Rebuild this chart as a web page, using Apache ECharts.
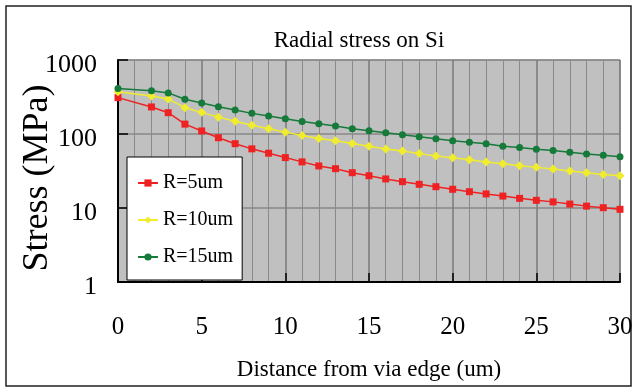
<!DOCTYPE html>
<html>
<head>
<meta charset="utf-8">
<script src="https://cdn.jsdelivr.net/npm/echarts@6/dist/echarts.min.js"></script>
<style>
  html, body { margin: 0; padding: 0; background: #fff; }
  #chart { width: 632px; height: 388px; }
</style>
</head>
<body>
<div id="chart"></div>
<script>
// distance from via edge (um)
const distance = [0, 2, 3, 4, 5, 6, 7, 8, 9, 10, 11, 12, 13, 14, 15, 16, 17, 18, 19, 20, 21, 22, 23, 24, 25, 26, 27, 28, 29, 30];

// radial stress (MPa) per via radius
const stressR5 = [310, 232, 194, 136, 110, 89, 74, 63, 55, 48, 42, 37, 34, 30, 27.3, 24.7, 22.7, 20.9, 19.4, 17.9, 16.6, 15.5, 14.5, 13.5, 12.7, 12.1, 11.3, 10.6, 10.1, 9.6];
const stressR10 = [371, 327, 298, 227, 196, 169, 149, 131, 118, 106, 95.5, 87, 80.8, 74.3, 68.3, 62.8, 59, 54.3, 50.5, 47.9, 45, 41.8, 39.7, 37.3, 35.4, 33.6, 31.6, 29.9, 28.4, 27.2];
const stressR15 = [412, 383, 359, 295, 262, 234, 211, 190, 175, 161, 148, 138, 128, 118, 111, 104, 97.5, 91.6, 86, 80.8, 77.4, 73.6, 68.3, 65.5, 62.1, 59.7, 56.5, 53.7, 51.5, 49.4];

const seriesNames = ["R=5um", "R=10um", "R=15um"];

const pairs = (ys) => distance.map((x, i) => [x, ys[i]]);

const FONT = "'Liberation Serif', 'DejaVu Serif', serif";

const chart = echarts.init(document.getElementById("chart"), null, { renderer: "canvas" });

const lineSeries = (name, data, color, symbol) => ({
  name,
  type: "line",
  data: pairs(data),
  symbol,
  symbolSize: symbol === "diamond" ? 9 : 7,
  showSymbol: true,
  lineStyle: { color, width: 1.5 },
  itemStyle: { color },
  z: 3,
});

chart.setOption({
  animation: false,
  textStyle: { fontFamily: FONT },
  title: {
    text: "Radial stress on Si",
    left: 354,
    top: 24,
    textAlign: "center",
    textStyle: { fontFamily: FONT, fontSize: 23, fontWeight: "normal", color: "#000" },
  },
  legend: {
    data: seriesNames,
    orient: "vertical",
    left: 127,
    top: 157,
    padding: [16, 9, 13, 10],
    itemGap: 17,
    itemWidth: 20,
    itemHeight: 9,
    backgroundColor: "#fff",
    borderColor: "#000",
    borderWidth: 1,
    textStyle: { fontFamily: FONT, fontSize: 20, color: "#000" },
  },
  grid: {
    left: 118,
    right: 12,
    top: 60,
    bottom: 106,
    outerBoundsMode: "none",
    show: true,
    backgroundColor: "#c0c0c0",
    borderColor: "#808080",
    borderWidth: 1,
  },
  xAxis: {
    type: "value",
    min: 0,
    max: 30,
    interval: 5,
    name: "Distance from via edge (um)",
    nameLocation: "middle",
    nameGap: 76,
    nameMoveOverlap: false,
    nameTextStyle: { fontFamily: FONT, fontSize: 23, color: "#000" },
    axisLine: { show: true, lineStyle: { color: "#000", width: 2 } },
    axisTick: { show: true, inside: true, length: 9, lineStyle: { color: "#000", width: 1.5 } },
    axisLabel: { margin: 33, fontFamily: FONT, fontSize: 25, color: "#000" },
    splitLine: { show: true, lineStyle: { color: "#7a7a7a", width: 1.5 } },
    minorTick: { show: false, splitNumber: 5 },
    minorSplitLine: { show: true, lineStyle: { color: "#8a8a8a", width: 1 } },
  },
  yAxis: {
    type: "log",
    logBase: 10,
    min: 1,
    max: 1000,
    name: "Stress (MPa)",
    nameLocation: "middle",
    nameGap: 62,
    nameMoveOverlap: false,
    nameTextStyle: { fontFamily: FONT, fontSize: 36, color: "#000", padding: [0, 14, 0, 0] },
    axisLine: { show: true, lineStyle: { color: "#000", width: 2 } },
    axisTick: { show: true, inside: true, length: 10, lineStyle: { color: "#000", width: 1.5 } },
    axisLabel: {
      margin: 21,
      color: "#000",
      // labels sit a little below their gridline in the original
      formatter: (v) => "{v|" + Math.round(v) + "}",
      rich: {
        v: { fontFamily: FONT, fontSize: 26, color: "#000", padding: [11, 0, 0, 0] },
      },
    },
    splitLine: { show: true, lineStyle: { color: "#888", width: 1.5 } },
  },
  graphic: [
    // outer frame of the chart area
    {
      type: "rect",
      shape: { x: 6, y: 6, width: 625, height: 380 },
      style: { fill: null, stroke: "#222", lineWidth: 1.5 },
      silent: true,
    },
  ],
  series: [
    lineSeries(seriesNames[0], stressR5, "#ee2222", "rect"),
    lineSeries(seriesNames[1], stressR10, "#f0ec2e", "diamond"),
    lineSeries(seriesNames[2], stressR15, "#167a3a", "circle"),
  ],
});
</script>
</body>
</html>
